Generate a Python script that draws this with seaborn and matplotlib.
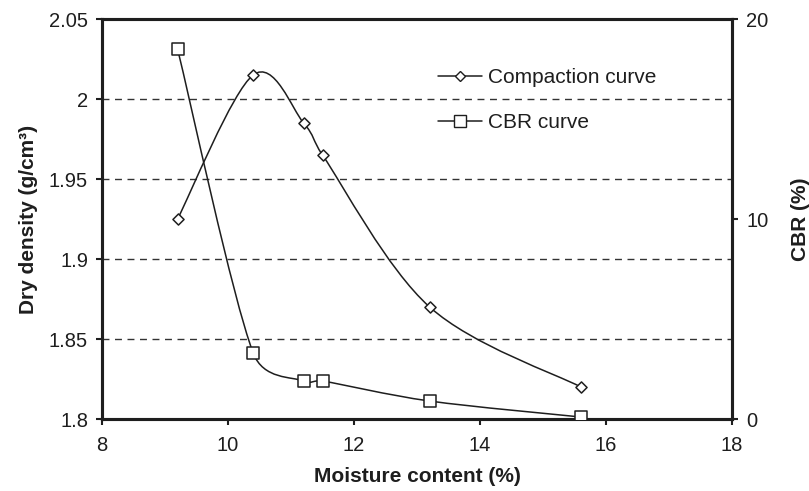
import numpy as np
import pandas as pd
import matplotlib.pyplot as plt
import seaborn as sns
from matplotlib.path import Path
from matplotlib.patches import PathPatch
from matplotlib.lines import Line2D

# values
moisture = [9.2, 10.4, 11.2, 11.5, 13.2, 15.6]
dry_density = [1.925, 2.015, 1.985, 1.965, 1.87, 1.82]
cbr = [18.5, 3.3, 1.9, 1.9, 0.9, 0.1]

x_ticks = [8, 10, 12, 14, 16, 18]
y_ticks = [1.8, 1.85, 1.9, 1.95, 2.0, 2.05]
y_tick_labels = ["1.8", "1.85", "1.9", "1.95", "2", "2.05"]
cbr_ticks = [0, 10, 20]

df = pd.DataFrame({"moisture": moisture, "density": dry_density, "cbr": cbr})

ink = "#1e1e1e"
sns.set_style("white")
plt.rcParams["font.family"] = ["Liberation Sans", "DejaVu Sans"]
plt.rcParams["text.color"] = ink
plt.rcParams["axes.labelcolor"] = ink


def smooth_path(a, x, y):
    # excel style smoothed line: bezier segments worked out in pixel space,
    # control arms capped at half the segment so the curve doesn't overshoot
    pts = a.transData.transform(np.column_stack([x, y]))
    n = len(pts)
    verts = [pts[0]]
    codes = [Path.MOVETO]
    for i in range(n - 1):
        p0 = pts[max(i - 1, 0)]
        p1 = pts[i]
        p2 = pts[i + 1]
        p3 = pts[min(i + 2, n - 1)]
        d12 = np.hypot(*(p2 - p1))
        d02 = np.hypot(*(p2 - p0))
        d13 = np.hypot(*(p3 - p1))
        f1 = min(1 / 6, d12 / (2 * d02)) if d02 > 0 else 0
        f2 = min(1 / 6, d12 / (2 * d13)) if d13 > 0 else 0
        verts += [p1 + (p2 - p0) * f1, p2 - (p3 - p1) * f2, p2]
        codes += [Path.CURVE4] * 3
    verts = a.transData.inverted().transform(np.array(verts))
    return Path(verts, codes)


fig = plt.figure(figsize=(8.09, 4.91), dpi=100)
ax = fig.add_axes([0.126, 0.1466, 0.779, 0.8147])
ax2 = ax.twinx()

ax.set_xlim(8, 18)
ax.set_ylim(1.8, 2.05)
ax2.set_ylim(0, 20)

# compaction curve on left axis
ax.add_patch(PathPatch(smooth_path(ax, df["moisture"], df["density"]), facecolor="none",
                       edgecolor=ink, lw=1.1, zorder=3))
sns.scatterplot(data=df, x="moisture", y="density", ax=ax, marker="D", s=32,
                color="white", edgecolor=ink, linewidth=1.1, zorder=4)

# CBR curve on right axis
ax2.add_patch(PathPatch(smooth_path(ax2, df["moisture"], df["cbr"]), facecolor="none",
                        edgecolor=ink, lw=1.1, zorder=3))
sns.scatterplot(data=df, x="moisture", y="cbr", ax=ax2, marker="s", s=70,
                color="white", edgecolor=ink, linewidth=1.1, zorder=4)

ax.set_xticks(x_ticks)
ax.set_yticks(y_ticks)
ax.set_yticklabels(y_tick_labels)
ax2.set_yticks(cbr_ticks)

for yv in y_ticks[1:-1]:
    ax.axhline(yv, color="#333333", lw=1, ls=(0, (5, 4)), zorder=1)

for a in (ax, ax2):
    for sp in a.spines.values():
        sp.set_linewidth(2.2)
        sp.set_color(ink)
        sp.set_visible(True)
ax.tick_params(axis="both", direction="out", length=4, width=1.5, colors=ink,
               labelsize=14.5, left=True, bottom=True)
ax.tick_params(axis="x", pad=8)
ax.tick_params(axis="y", pad=6)
ax2.tick_params(axis="y", direction="out", length=4, width=1.5, colors=ink,
                labelsize=14.5, right=True, pad=6)

ax.set_xlabel("Moisture content (%)", fontweight="bold", fontsize=15, labelpad=9)
ax.set_ylabel("Dry density (g/cm³)", fontweight="bold", fontsize=15, labelpad=8)
ax2.set_ylabel("CBR (%)", fontweight="bold", fontsize=15, labelpad=16)

handles = [
    Line2D([], [], color=ink, lw=1.1, marker="D", markersize=5.6,
           markerfacecolor="white", markeredgecolor=ink),
    Line2D([], [], color=ink, lw=1.1, marker="s", markersize=8.4,
           markerfacecolor="white", markeredgecolor=ink),
]
ax2.legend(handles, ["Compaction curve", "CBR curve"], loc="upper left",
           bbox_to_anchor=(0.533, 0.877), frameon=False, borderaxespad=0,
           borderpad=0, handlelength=2.1, handletextpad=0.3, labelspacing=1.25,
           fontsize=15)

fig.savefig("out.png", dpi=100)
